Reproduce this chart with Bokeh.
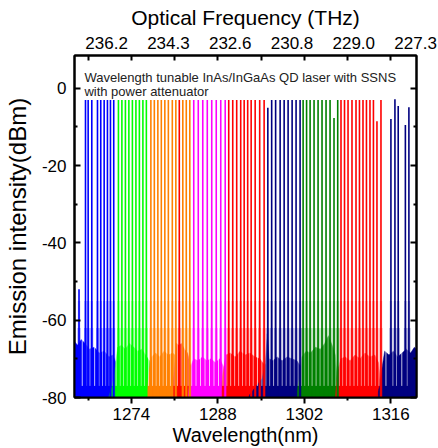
from bokeh.plotting import figure
from bokeh.models import LinearAxis, FixedTicker, Range1d
from bokeh.embed import file_html
from bokeh.resources import INLINE
from bokeh.core.properties import value

FONT = "Liberation Sans"

# ---------------- data ----------------
x_range_nm = (1264.8, 1320.15)
y_range_dbm = (-80, 8.5)

bottom_ticks = [1274, 1288, 1302, 1316]
bottom_minor = [1267, 1281, 1295, 1309]
left_ticks = [0, -20, -40, -60, -80]
left_minor = [-10, -30, -50, -70]
top_tick_pos = [1270, 1280, 1290, 1300, 1310, 1320]
top_tick_labels = ["236.2", "234.3", "232.6", "230.8", "229.0", "227.3"]
top_minor = [1267, 1274, 1281, 1288, 1295, 1302, 1309, 1316]

note_lines = ["Wavelength tunable InAs/InGaAs QD laser with SSNS", "with power attenuator"]

# peak wavelengths (nm) and peak heights (dBm), one group per colour
blue_peaks = [1265.53, 1266.58, 1267.01, 1267.60, 1268.52, 1269.05, 1269.60, 1270.13, 1270.62, 1271.15]
blue_tops = [-52, -3, -3, -3, -3, -3, -3, -3, -3, -3]
green_peaks = [1271.91, 1272.47, 1273.04, 1273.60, 1274.17, 1274.74, 1275.30, 1275.87, 1276.43]
green_tops = [-3, -3, -3, -3, -3, -3, -3, -3, -3]
orange_peaks = [1277.16, 1277.72, 1278.29, 1278.85, 1279.42, 1279.99, 1280.63, 1281.20, 1282.33, 1282.89, 1283.46]
orange_tops = [-3, -3, -3, -3, -3, -3, -3, -3, -3, -3, -3]
red1_peaks = [1281.76]
red1_tops = [-3]
magenta_peaks = [1284.10, 1284.83, 1285.56, 1286.29, 1287.01, 1287.74, 1288.47, 1289.19]
magenta_tops = [-3, -3, -3, -3, -3, -3, -3, -3]
red2_peaks = [1289.76, 1290.41, 1291.05, 1291.70, 1292.26, 1292.83, 1293.39, 1294.04, 1294.77, 1295.49]
red2_tops = [-3, -3, -3, -3, -3, -3, -3, -3, -3, -3]
navy1_peaks = [1296.09, 1296.71, 1297.35, 1298.08, 1298.73, 1299.37, 1300.02, 1300.66, 1301.31]
navy1_tops = [-5, -3, -3, -3, -3, -3, -3, -3, -3]
dgreen_peaks = [1301.80, 1302.36, 1302.93, 1303.57, 1304.22, 1304.86, 1305.51, 1306.16, 1306.80, 1307.40]
dgreen_tops = [-3, -3, -3, -3, -3, -3, -3, -3, -7.7, -3]
red3_peaks = [1307.93, 1308.50, 1309.07, 1309.71, 1310.36, 1310.92, 1311.49, 1312.05, 1312.62, 1313.18, 1313.75, 1314.40]
red3_tops = [-3, -3, -3, -3, -3, -3, -3, -3, -3, -3, -8.5, -3]
navy2_peaks = [1316.01, 1316.66, 1317.19, 1318.35, 1318.92]
navy2_tops = [-7.9, -2.8, -4.6, -9.5, -4.9]

# noise-floor envelopes (nm, dBm)
blue_noise_x = [1264.8, 1264.8, 1265.3, 1265.9, 1266.5, 1267.2, 1268.0, 1268.8, 1269.6, 1270.4, 1271.0, 1271.5, 1271.9]
blue_noise_y = [-80, -65.5, -66.5, -65.0, -66.0, -67.5, -67.0, -68.5, -68.0, -69.5, -69.0, -71.0, -80]
green_noise_x = [1270.3, 1270.9, 1271.4, 1271.8, 1272.4, 1273.0, 1273.7, 1274.4, 1275.0, 1275.7, 1276.3, 1276.9, 1277.3]
green_noise_y = [-80, -77, -72, -67, -66.5, -67.5, -66.0, -67.0, -68.0, -67.5, -69.0, -70.5, -80]
orange_noise_x = [1276.4, 1276.9, 1277.3, 1277.9, 1278.6, 1279.3, 1280.0, 1280.7, 1281.4, 1282.0, 1282.6, 1283.2, 1283.6]
orange_noise_y = [-80, -73, -69.5, -68.5, -69.5, -68.0, -69.0, -68.5, -69.5, -70.0, -69.0, -71.0, -80]
red1_noise_x = [1280.6, 1281.0, 1281.3, 1281.7, 1282.1, 1282.6, 1283.1, 1283.6, 1284.0]
red1_noise_y = [-80, -72, -66, -66.5, -66.0, -67.5, -68.5, -72, -80]
magenta_noise_x = [1283.2, 1283.6, 1284.1, 1284.8, 1285.5, 1286.2, 1286.9, 1287.6, 1288.3, 1288.9, 1289.4]
magenta_noise_y = [-80, -72, -70.0, -70.5, -69.5, -70.5, -70.0, -71.0, -70.0, -72.0, -80]
red2_noise_x = [1288.4, 1288.8, 1289.3, 1290.0, 1290.8, 1291.6, 1292.4, 1293.2, 1294.0, 1294.8, 1295.5, 1296.0]
red2_noise_y = [-80, -74, -69.0, -68.5, -69.5, -68.0, -69.0, -68.5, -69.5, -70.0, -71.5, -80]
navy1_noise_x = [1292.8, 1294.0, 1295.2, 1295.7, 1296.0, 1296.3, 1296.9, 1297.6, 1298.4, 1299.2, 1300.0, 1300.8, 1301.4, 1301.8]
navy1_noise_y = [-80, -77.5, -75, -71, -63.5, -70.0, -70.5, -69.5, -70.5, -69.5, -70.0, -70.5, -72, -80]
dgreen_noise_x = [1300.6, 1301.2, 1301.6, 1302.3, 1303.0, 1303.8, 1304.6, 1305.3, 1305.9, 1306.5, 1307.0, 1307.5]
dgreen_noise_y = [-80, -75, -69.5, -68.0, -68.5, -67.0, -67.5, -66.0, -64.0, -66.5, -69.0, -80]
red3_noise_x = [1307.0, 1307.4, 1307.9, 1308.6, 1309.4, 1310.2, 1311.0, 1311.8, 1312.6, 1313.4, 1314.0, 1314.5]
red3_noise_y = [-80, -73, -70.0, -69.5, -70.5, -69.0, -70.0, -68.5, -69.5, -69.0, -71.0, -80]
navy2_noise_x = [1313.6, 1314.2, 1314.6, 1315.0, 1315.7, 1316.4, 1317.1, 1317.8, 1318.5, 1319.2, 1319.8, 1320.15, 1320.15]
navy2_noise_y = [-80, -77, -72, -68.0, -69.0, -68.0, -69.5, -68.5, -67.5, -68.5, -67.0, -67.5, -80]

groups = [
    ("#0000FF", blue_peaks, blue_tops, blue_noise_x, blue_noise_y),
    ("#00FF00", green_peaks, green_tops, green_noise_x, green_noise_y),
    ("#FF8000", orange_peaks, orange_tops, orange_noise_x, orange_noise_y),
    ("#FF0000", red1_peaks, red1_tops, red1_noise_x, red1_noise_y),
    ("#FF00FF", magenta_peaks, magenta_tops, magenta_noise_x, magenta_noise_y),
    ("#FF0000", red2_peaks, red2_tops, red2_noise_x, red2_noise_y),
    ("#000080", navy1_peaks, navy1_tops, navy1_noise_x, navy1_noise_y),
    ("#008000", dgreen_peaks, dgreen_tops, dgreen_noise_x, dgreen_noise_y),
    ("#FF0000", red3_peaks, red3_tops, red3_noise_x, red3_noise_y),
    ("#000080", navy2_peaks, navy2_tops, navy2_noise_x, navy2_noise_y),
]

# ---------------- figure ----------------
p = figure(width=438, height=448,
           x_range=Range1d(*x_range_nm), y_range=Range1d(*y_range_dbm),
           output_backend="svg", toolbar_location=None,
           min_border_left=73, min_border_right=22, min_border_top=55, min_border_bottom=51)
p.grid.visible = False
p.outline_line_color = "black"
p.outline_line_width = 2
p.background_fill_color = "white"
p.border_fill_color = "white"

# noise floors
for color, peaks, tops, nx, ny in groups:
    p.patch(nx, ny, fill_color=color, line_color=color, line_width=0.5)

# white streaks between neighbouring modes inside the noise floor
all_peaks = sorted([w for g in groups for w in g[1]])
mids = [(a + b) / 2 for a, b in zip(all_peaks[:-1], all_peaks[1:])]
p.segment(x0=mids, y0=[-77] * len(mids), x1=mids, y1=[-62] * len(mids),
          line_color="white", line_width=1, line_alpha=0.75)

# broadened mode bases and mode lines
for color, peaks, tops, nx, ny in groups:
    n = len(peaks)
    p.segment(x0=peaks, y0=[-80] * n, x1=peaks, y1=[min(-55, t) for t in tops],
              line_color=color, line_width=2.4, line_alpha=0.3)
    p.segment(x0=peaks, y0=[-80] * n, x1=peaks, y1=[min(-62, t) for t in tops],
              line_color=color, line_width=3.0, line_alpha=0.35)
    p.segment(x0=peaks, y0=[-80] * n, x1=peaks, y1=tops,
              line_color=color, line_width=1.6)

# annotation
p.text(x=[1266.4, 1266.4], y=[2.8, -0.8], text=note_lines,
       text_font=value(FONT), text_font_size="13px", text_color="#222222",
       text_baseline="alphabetic", text_align="left")

# ---------------- axes ----------------
def style_axis(ax, label_size="17px"):
    ax.axis_line_width = 2
    ax.major_tick_line_width = 2
    ax.minor_tick_line_width = 2
    ax.major_label_text_font = FONT
    ax.major_label_text_font_size = label_size
    ax.major_label_text_color = "black"
    ax.axis_label_text_font = FONT
    ax.axis_label_text_font_size = "20px"
    ax.axis_label_text_font_style = "normal"
    ax.axis_label_text_color = "black"

xb = p.xaxis[0]
xb.ticker = FixedTicker(ticks=bottom_ticks, minor_ticks=bottom_minor)
style_axis(xb)
xb.major_tick_in = 0
xb.major_tick_out = 6
xb.minor_tick_in = 0
xb.minor_tick_out = 3
xb.major_label_standoff = 4
xb.axis_label = "Wavelength(nm)"
xb.axis_label_standoff = 1

yl = p.yaxis[0]
yl.ticker = FixedTicker(ticks=left_ticks, minor_ticks=left_minor)
style_axis(yl)
yl.major_tick_in = 6
yl.major_tick_out = 0
yl.minor_tick_in = 3
yl.minor_tick_out = 0
yl.major_label_standoff = 8
yl.major_label_overrides = {t: str(t) for t in left_ticks}
yl.axis_label = "Emission intensity(dBm)"
yl.axis_label_text_font_size = "24px"
yl.axis_label_standoff = 8

yr = LinearAxis(ticker=FixedTicker(ticks=left_ticks, minor_ticks=left_minor))
style_axis(yr)
yr.major_tick_in = 6
yr.major_tick_out = 0
yr.minor_tick_in = 3
yr.minor_tick_out = 0
yr.major_label_text_font_size = "1px"
yr.major_label_text_alpha = 0
yr.major_label_standoff = 0
p.add_layout(yr, "right")

xt = LinearAxis(ticker=FixedTicker(ticks=top_tick_pos, minor_ticks=top_minor))
style_axis(xt)
xt.major_tick_in = 0
xt.major_tick_out = 0
xt.minor_tick_in = 5
xt.minor_tick_out = 0
xt.major_label_standoff = 7
xt.major_label_overrides = dict(zip(top_tick_pos, top_tick_labels))
xt.axis_label = "Optical Frequency (THz)"
xt.axis_label_text_font_size = "21px"
xt.axis_label_standoff = 5
p.add_layout(xt, "above")

open("out.html", "w").write(file_html(p, INLINE))
